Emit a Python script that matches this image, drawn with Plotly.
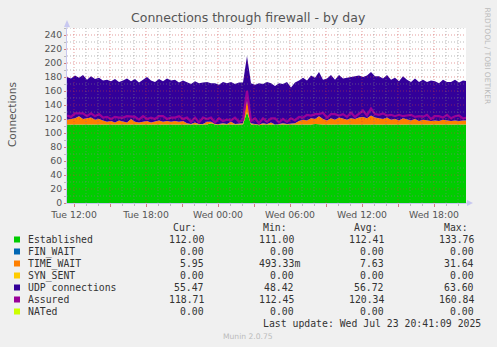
import pandas as pd
import plotly.graph_objects as go

# ---------------- data (20-minute samples from Tue 11:25) ----------------
start_time = "2025-07-22 11:25"
n_points = 101
established = [
    112, 112, 112, 112, 112, 112, 112, 112, 112, 112,
    112, 112, 112, 112, 112, 112, 112, 112, 112, 112, 112, 112, 112, 112, 112, 112, 112,
    112, 112, 112,
    112, 112, 112, 112, 112, 112, 114, 112, 112, 112, 112, 113, 112, 112, 112, 130,
    112, 112, 111, 112, 112, 112, 111, 112, 112, 112, 112, 112,
    112, 112, 112, 112, 113, 112, 112, 112, 112, 112, 112, 112, 112, 112, 112, 112,
    112, 112, 112, 112,
    112, 112, 112, 112, 112, 112, 112, 112, 112, 112, 112, 112, 112, 112, 112, 112,
    112, 112, 112, 112, 112, 112, 112,
]
time_wait = [
    7, 8, 9, 12, 8, 9, 10, 7, 8, 6,
    4, 5, 3, 6, 4, 3, 8, 4, 3, 4, 5, 3, 4, 6, 4, 5, 4,
    5, 4, 5,
    2, 1, 3, 1, 1, 4, 2, 1, 1, 2, 1, 3, 1, 1, 2, 18, 2, 1, 1, 2, 1, 3, 1, 1, 2, 1, 1, 2,
    5, 7, 6, 9, 7, 12, 8, 6, 9, 7, 10, 8, 7, 9, 8, 10, 11, 9, 13, 10,
    9, 8, 10, 7, 8, 6, 9, 7, 6, 8, 5, 7, 6, 5, 6, 5, 7, 6, 5, 6, 5, 6, 6,
]
udp = [
    61, 58, 61, 55, 63, 55, 59, 58, 59, 57,
    60, 57, 62, 55, 59, 63, 54, 61, 57, 60, 63, 60, 57, 59, 58, 61, 59,
    59, 56, 58,
    59, 57, 59, 58, 59, 57, 55, 58, 56, 59, 58, 57, 57, 59, 58, 62, 57, 56, 59, 56,
    60, 56, 55, 58, 56, 60, 52, 58,
    58, 60, 57, 61, 59, 63, 56, 60, 62, 57, 61, 58, 60, 59, 62, 60, 57, 61, 62, 59,
    60, 58, 61, 57, 59, 56, 60, 57, 55, 58, 56, 57, 55, 58, 56, 54, 57, 55, 56, 58,
    55, 57, 56,
]
assured = [
    125, 123, 128, 128, 128, 124, 128, 124, 127, 122,
    123, 120, 123, 122, 122, 124, 123, 123, 119, 124, 120, 122, 120, 124, 124, 120, 122,
    122, 124, 120,
    122, 116, 122, 115, 122, 120, 122, 115, 121, 117, 119, 118, 122, 116, 119, 160,
    117, 121, 114, 121, 116, 121, 121, 115, 120, 116, 121, 118,
    123, 122, 126, 125, 127, 127, 129, 122, 127, 127, 125, 127, 123, 129, 123, 128,
    132, 125, 135, 127,
    126, 128, 125, 126, 124, 126, 124, 125, 126, 123, 124, 123, 126, 120, 124, 124,
    122, 126, 121, 124, 125, 121, 122,
]

legend_names = ["Established", "FIN_WAIT", "TIME_WAIT", "SYN_SENT",
                "UDP connections", "Assured", "NATed"]
legend_colors = ["#00CC00", "#0066B3", "#FF8000", "#FFCC00",
                 "#330099", "#990099", "#CCFF00"]
cur_vals = ["112.00", "0.00", "5.95", "0.00", "55.47", "118.71", "0.00"]
min_vals = ["111.00", "0.00", "493.33m", "0.00", "48.42", "112.45", "0.00"]
avg_vals = ["112.41", "0.00", "7.63", "0.00", "56.72", "120.34", "0.00"]
max_vals = ["133.76", "0.00", "31.64", "0.00", "63.60", "160.84", "0.00"]

x_range = ["2025-07-22 11:25", "2025-07-23 20:40"]
tick_times = ["2025-07-22 12:00", "2025-07-22 15:00", "2025-07-22 18:00",
              "2025-07-22 21:00", "2025-07-23 00:00", "2025-07-23 03:00",
              "2025-07-23 06:00", "2025-07-23 09:00", "2025-07-23 12:00",
              "2025-07-23 15:00", "2025-07-23 18:00"]
tick_text = ["Tue 12:00", "", "Tue 18:00", "", "Wed 00:00", "", "Wed 06:00",
             "", "Wed 12:00", "", "Wed 18:00"]
y_ticks = [0, 20, 40, 60, 80, 100, 120, 140, 160, 180, 200, 220, 240]

# ---------------- figure ----------------
W, H = 497, 347
PL, PR, PT, PB = 67, 466, 28, 203   # plot area in pixels


def px(x):
    return (x - PL) / (PR - PL)


def py(y):
    return (PB - y) / (PB - PT)


times = pd.date_range(start_time, periods=n_points, freq="20min")

fig = go.Figure()
fig.add_trace(go.Scatter(x=times, y=established, stackgroup="s", mode="lines",
                         line=dict(width=0), fillcolor="#00CC00", hoverinfo="skip"))
fig.add_trace(go.Scatter(x=times, y=time_wait, stackgroup="s", mode="lines",
                         line=dict(width=0), fillcolor="#FF8000", hoverinfo="skip"))
fig.add_trace(go.Scatter(x=times, y=udp, stackgroup="s", mode="lines",
                         line=dict(width=0), fillcolor="#330099", hoverinfo="skip"))
fig.add_trace(go.Scatter(x=times, y=assured, mode="lines",
                         line=dict(width=2.2, color="#990099"), hoverinfo="skip"))

shapes = []
# grid lines drawn above the areas (like rrdtool)
minor_col = "rgba(130,130,130,0.55)"
major_col = "rgba(205,60,60,0.5)"
for t in pd.date_range("2025-07-22 12:00", "2025-07-23 20:00", freq="1h"):
    col = major_col if t.hour % 3 == 0 else minor_col
    shapes.append(dict(type="line", xref="x", yref="paper", x0=t, x1=t, y0=0, y1=1,
                       line=dict(color=col, width=1, dash="1px,2px"), layer="above"))
for v in range(10, 260, 10):
    col = major_col if (v % 20 == 0 and v <= 240) else minor_col
    shapes.append(dict(type="line", xref="paper", yref="y", x0=0, x1=1, y0=v, y1=v,
                       line=dict(color=col, width=1, dash="1px,2px"), layer="above"))

axis_col = "#C8C8F0"
# axis arrows
shapes.append(dict(type="line", xref="paper", yref="paper", x0=0, x1=0, y0=1, y1=py(22),
                   line=dict(color=axis_col, width=1), layer="above"))
shapes.append(dict(type="path", xref="paper", yref="paper",
                   path=f"M {px(64)} {py(27)} L {px(70)} {py(27)} L {px(67)} {py(20)} Z",
                   fillcolor=axis_col, line=dict(width=0), layer="above"))
shapes.append(dict(type="line", xref="paper", yref="paper", x0=1, x1=px(471), y0=0, y1=0,
                   line=dict(color=axis_col, width=1), layer="above"))
shapes.append(dict(type="path", xref="paper", yref="paper",
                   path=f"M {px(467)} {py(200)} L {px(467)} {py(206)} L {px(473)} {py(203)} Z",
                   fillcolor=axis_col, line=dict(width=0), layer="above"))

ann = []
ann.append(dict(text="Connections through firewall - by day", x=px(248.5), y=py(18),
                xref="paper", yref="paper", showarrow=False, xanchor="center", yanchor="middle",
                font=dict(family="DejaVu Sans", size=12.5, color="#555555")))
ann.append(dict(text="Connections", x=px(12), y=py(115), xref="paper", yref="paper",
                showarrow=False, textangle=-90, xanchor="center", yanchor="middle",
                font=dict(family="DejaVu Sans", size=10.5, color="#555555")))
ann.append(dict(text="RRDTOOL / TOBI OETIKER", x=px(487), y=py(5), xref="paper",
                yref="paper", showarrow=False, textangle=90, xanchor="center", yanchor="top",
                font=dict(family="DejaVu Sans", size=7.5, color="#BBBBBB")))

mono = dict(family="DejaVu Sans Mono", size=9.8, color="#333333")
for txt, xr in [("Cur:", 199), ("Min:", 289), ("Avg:", 380), ("Max:", 470)]:
    ann.append(dict(text=txt, x=px(xr), y=py(227.5), xref="paper", yref="paper",
                    showarrow=False, xanchor="right", yanchor="middle", font=mono))

row_y0, row_dy = 239.5, 12.0
for i, name in enumerate(legend_names):
    yy = row_y0 + i * row_dy
    shapes.append(dict(type="rect", xref="paper", yref="paper",
                       x0=px(14), x1=px(20), y0=py(yy - 3), y1=py(yy + 3),
                       fillcolor=legend_colors[i], line=dict(width=0)))
    ann.append(dict(text=name, x=px(26), y=py(yy), xref="paper", yref="paper",
                    showarrow=False, xanchor="left", yanchor="middle", font=mono))
    for vals, colend in [(cur_vals, 212), (min_vals, 302), (avg_vals, 392), (max_vals, 482)]:
        v = vals[i]
        end = colend if v.endswith("m") else colend - 6
        ann.append(dict(text=v, x=px(end), y=py(yy), xref="paper", yref="paper",
                        showarrow=False, xanchor="right", yanchor="middle", font=mono))

ann.append(dict(text="Last update: Wed Jul 23 20:41:09 2025", x=px(483), y=py(323.5),
                xref="paper", yref="paper", showarrow=False, xanchor="right",
                yanchor="middle", font=mono))
ann.append(dict(text="Munin 2.0.75", x=px(248), y=py(336), xref="paper", yref="paper",
                showarrow=False, xanchor="center", yanchor="middle",
                font=dict(family="DejaVu Sans", size=7.6, color="#BBBBBB")))

fig.update_layout(
    width=W, height=H,
    margin=dict(l=PL, r=W - PR, t=PT, b=H - PB, pad=0),
    paper_bgcolor="#F0F0F0", plot_bgcolor="#FFFFFF",
    showlegend=False,
    shapes=shapes, annotations=ann,
    font=dict(family="DejaVu Sans", size=9.3, color="#555555"),
    xaxis=dict(type="date", range=x_range, tickvals=tick_times, ticktext=tick_text,
               showgrid=False, zeroline=False, showline=True, linecolor=axis_col,
               linewidth=1, ticks="outside", ticklen=3, tickcolor="#D08080",
               minor=dict(ticks="outside", ticklen=2, tickcolor="#BBBBBB",
                          dtick=3600000, tick0="2025-07-22 12:00", showgrid=False),
               layer="above traces", fixedrange=True,
               tickfont=dict(family="DejaVu Sans", size=9.3, color="#555555")),
    yaxis=dict(range=[0, 250], tickvals=y_ticks, showgrid=False, zeroline=False,
               showline=True, linecolor=axis_col, linewidth=1, ticks="outside",
               ticklen=2, tickcolor="#D08080",
               minor=dict(ticks="outside", ticklen=2, tickcolor="#BBBBBB", dtick=10,
                          showgrid=False),
               layer="above traces", fixedrange=True,
               tickfont=dict(family="DejaVu Sans", size=9.3, color="#555555")),
)

fig.write_html("out.html", config={"displayModeBar": False})
